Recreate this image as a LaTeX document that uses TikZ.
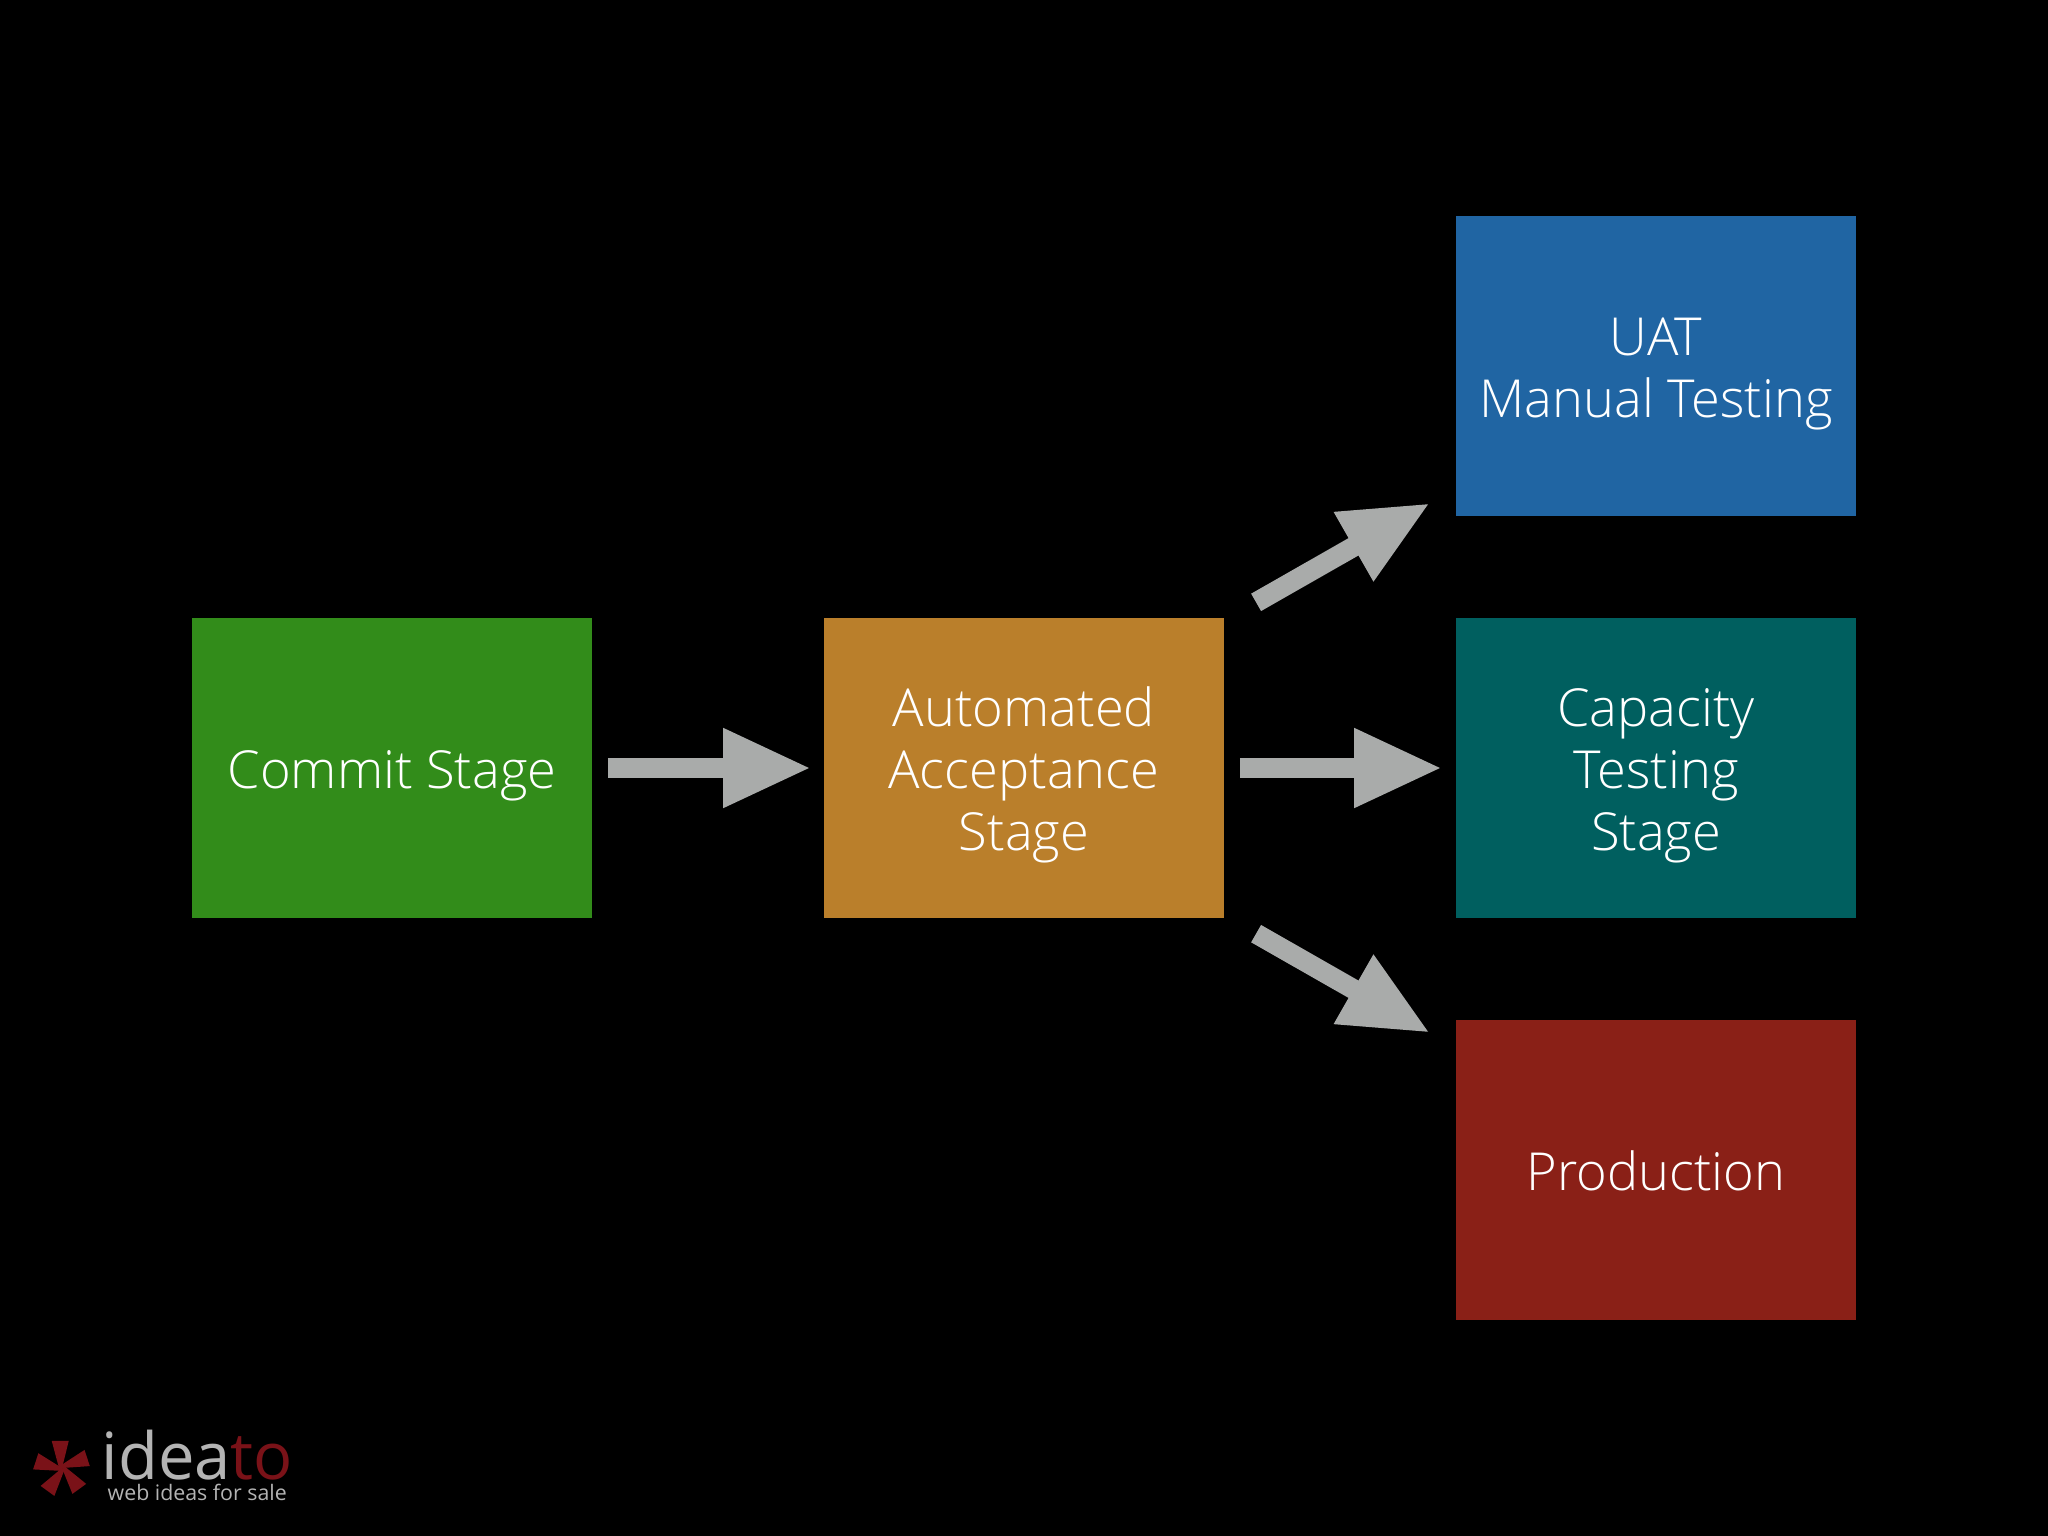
\documentclass[tikz,border=0pt]{standalone}
\usepackage{fontspec}
\setmainfont{Open Sans Light}
\newfontfamily\logofont{Open Sans}
\usetikzlibrary{arrows.meta}
\definecolor{commitgreen}{HTML}{328C1A}
\definecolor{autoorange}{HTML}{BA7F2B}
\definecolor{uatblue}{HTML}{2065A3}
\definecolor{capteal}{HTML}{005F5F}
\definecolor{prodred}{HTML}{8A2017}
\definecolor{flowgray}{HTML}{A9ABAA}
\definecolor{logored}{HTML}{7A1218}
\definecolor{logogray}{HTML}{B4B4B4}
\tikzset{stage/.style={minimum width=4cm,minimum height=3cm,inner sep=0pt,text=white,align=center,font=\fontsize{14.9}{17.7}\selectfont,execute at begin node={\rule{0pt}{#1}},execute at end node={\rule[-3.5pt]{0pt}{0pt}}},stage/.default=15.3pt}
\begin{document}
\begin{tikzpicture}[x=0.01cm,y=0.01cm]
\tikzstyle{flow}=[draw=flowgray,line width=0.2cm,-{Triangle[length=0.88cm,width=0.74cm]}]
\fill [black] (0,0) rectangle (2048,-1536);
\node [stage,fill=commitgreen] (commit) at (392,-768) {Commit Stage};
\node [stage=50.7pt,fill=autoorange] (auto) at (1024,-768) {Automated\\Acceptance\\Stage};
\node [stage=33pt,fill=uatblue] (uat) at (1656,-366) {UAT\\Manual Testing};
\node [stage=50.7pt,fill=capteal] (capacity) at (1656,-768) {Capacity\\Testing\\Stage};
\node [stage,fill=prodred] (prod) at (1656,-1170) {Production};
\draw [flow,shorten <=0.15cm,shorten >=0.12cm] (commit) -- (auto);
\draw [flow,shorten <=0.15cm,shorten >=0.13cm] (auto) -- (capacity);
\draw [flow,shorten <=0.36cm,shorten >=0.29cm] ([yshift=-0.03cm]auto.north east) -- ([yshift=0.28cm]uat.south west);
\draw [flow,shorten <=0.36cm,shorten >=0.29cm] ([yshift=0.03cm]auto.south east) -- ([yshift=-0.28cm]prod.north west);
% logo
\foreach \a in {90,162,234,306,18}
  \fill [logored] (62,-1468) -- ++(\a+90:3) -- ++(\a+15:28) -- ++(\a-90:17) -- cycle;
\node [anchor=base west,inner sep=0pt,font=\logofont\fontsize{18.5}{20}\selectfont] (brand) at (101,-1479) {\textcolor{logogray}{idea}\textcolor{logored}{to}};
\node [anchor=base west,inner sep=0pt,text=logogray,font=\logofont\fontsize{6.07}{8}\selectfont] (tagline) at (107,-1500) {web ideas for sale};
\end{tikzpicture}
\end{document}
